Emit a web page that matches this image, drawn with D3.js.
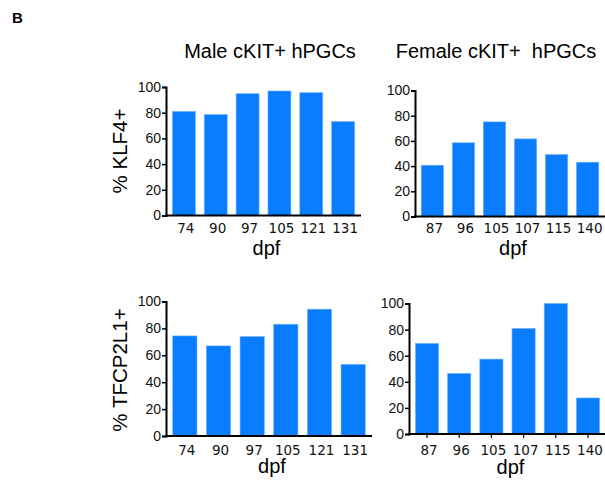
<!DOCTYPE html>
<html>
<head>
<meta charset="utf-8">
<script src="https://cdn.jsdelivr.net/npm/d3@7"></script>
<style>
  body { margin: 0; background: #fff; }
  svg { display: block; }
</style>
</head>
<body>
<svg id="chart" width="605" height="482"></svg>
<script>
// data
var maleDays = ["74", "90", "97", "105", "121", "131"];
var femaleDays = ["87", "96", "105", "107", "115", "140"];
var maleKlf4 = [81, 78.6, 94.8, 96.9, 95.6, 73.1];
var femaleKlf4 = [40.7, 58.5, 75.1, 61.6, 49.2, 43.1];
var maleTfcp2l1 = [74.4, 67, 73.9, 83.1, 94.3, 53.3];
var femaleTfcp2l1 = [69.4, 46.4, 57.4, 80.9, 100, 27.6];
var yTicks = [0, 20, 40, 60, 80, 100];

var barColor = "#0a7dff";
var sans = "Liberation Sans, Arial, sans-serif";
var svg = d3.select("#chart");

var panels = [
    {days: maleDays, values: maleKlf4, x0: 166, x1: 361, yTop: 87, yBot: 215.5, xTicks: false, labelY: 233, dpfY: 255},
    {days: femaleDays, values: femaleKlf4, x0: 415, x1: 605, yTop: 90.5, yBot: 216.5, xTicks: false, labelY: 233, dpfY: 255},
    {days: maleDays, values: maleTfcp2l1, x0: 166, x1: 372, yTop: 301.5, yBot: 436, xTicks: false, labelY: 455, dpfY: 473},
    {days: femaleDays, values: femaleTfcp2l1, x0: 409, x1: 606, yTop: 303.5, yBot: 434, xTicks: true, labelY: 455, dpfY: 474}
];

panels.forEach(function(p) {
    var x = d3.scaleBand().domain(p.days).range([p.x0, p.x1]).paddingInner(0.28).paddingOuter(0.2);
    var y = d3.scaleLinear().domain([0, 100]).range([p.yBot, p.yTop]);
    var g = svg.append("g");

    g.selectAll("rect").data(p.values).enter().append("rect")
        .attr("x", function(d, i) { return x(p.days[i]); })
        .attr("y", function(d) { return y(d); })
        .attr("width", x.bandwidth())
        .attr("height", function(d) { return y(0) - y(d); })
        .attr("fill", barColor)
        .attr("stroke", "#6db3ff")
        .attr("stroke-width", 0.6);

    // y axis
    var ya = g.append("g").attr("transform", "translate(" + p.x0 + ",0)")
        .call(d3.axisLeft(y).tickValues(yTicks).tickSize(4).tickPadding(1));
    ya.select(".domain").attr("stroke", "#000").attr("stroke-width", 2);
    ya.selectAll(".tick line").attr("stroke", "#000").attr("stroke-width", 1.5);
    ya.selectAll("text").attr("font-family", sans)
        .attr("font-size", 14).attr("fill", "#111");

    // x axis
    var xa = g.append("g").attr("transform", "translate(0," + p.yBot + ")")
        .call(d3.axisBottom(x).tickSize(p.xTicks ? 4 : 0).tickSizeOuter(0).tickPadding(0));
    xa.select(".domain").attr("stroke", "#000").attr("stroke-width", 2)
        .attr("d", "M" + (p.x0 - 1) + ",0H" + p.x1);
    xa.selectAll(".tick line").attr("stroke", "#000").attr("stroke-width", 1.2);
    xa.selectAll("text").attr("font-family", "DejaVu Sans, Verdana, sans-serif")
        .attr("font-size", 13.5).attr("fill", "#111")
        .attr("dy", null).attr("dx", 2)
        .attr("y", p.labelY - p.yBot);

    g.append("text")
        .attr("x", (p.x0 + p.x1) / 2 + 3)
        .attr("y", p.dpfY)
        .attr("text-anchor", "middle")
        .attr("font-family", sans)
        .attr("font-size", 20)
        .text("dpf");
});

svg.append("text").attr("x", 12).attr("y", 23)
    .attr("font-family", sans).attr("font-size", 15).attr("font-weight", "bold").text("B");

svg.append("text").attr("x", 270).attr("y", 58).attr("text-anchor", "middle")
    .attr("font-family", sans).attr("font-size", 20).text("Male cKIT+ hPGCs");
svg.append("text").attr("x", 496).attr("y", 58).attr("text-anchor", "middle")
    .attr("font-family", sans).attr("font-size", 20).attr("xml:space", "preserve")
    .text("Female cKIT+  hPGCs");

svg.append("text").attr("transform", "translate(127,151) rotate(-90)").attr("text-anchor", "middle")
    .attr("font-family", sans).attr("font-size", 20.5).text("% KLF4+");
svg.append("text").attr("transform", "translate(127,370) rotate(-90)").attr("text-anchor", "middle")
    .attr("font-family", sans).attr("font-size", 20.5).text("% TFCP2L1+");
</script>
</body>
</html>
